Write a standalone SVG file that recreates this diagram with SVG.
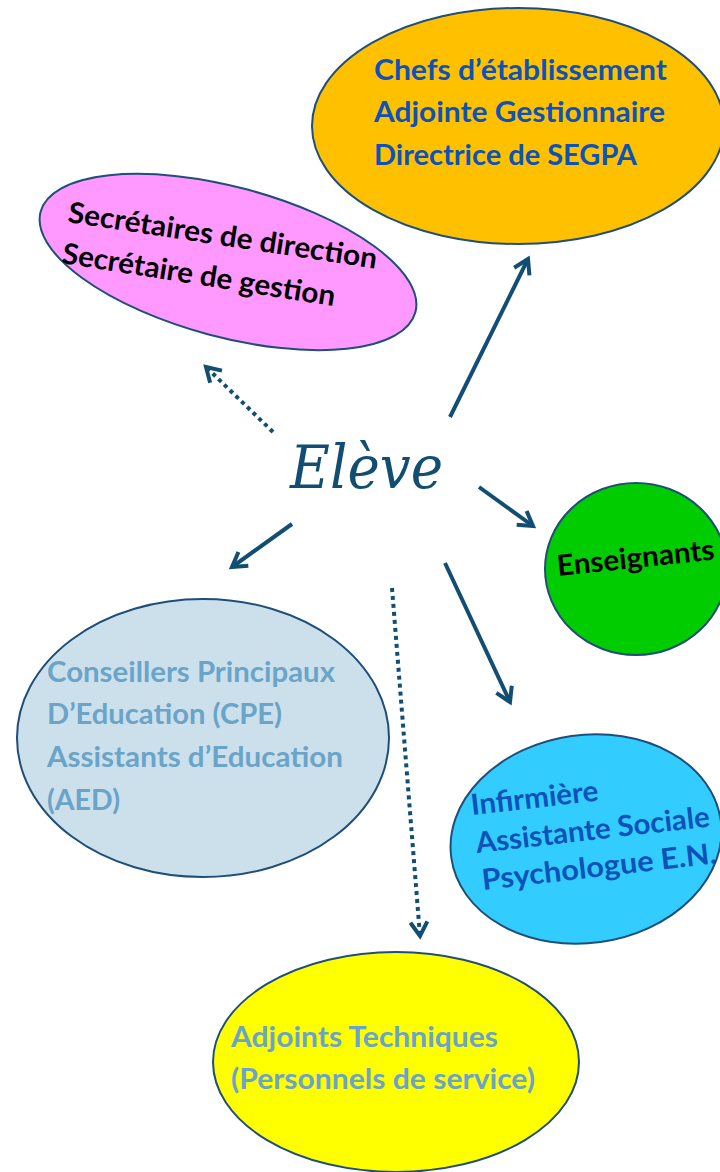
<svg xmlns="http://www.w3.org/2000/svg" width="720" height="1172" viewBox="0 0 720 1172">
<style>
.node ellipse{stroke:#1F4E79;stroke-width:2}
.t{font-family:Lato,"Open Sans","Liberation Sans",sans-serif;font-weight:bold;font-size:29px}
.blue{fill:#0D52B8}
.black{fill:#000}
.steel{fill:#6AA4C8}
.conn line{stroke:#124E72;stroke-width:4;fill:none}
.dot{stroke-dasharray:4 4}
</style>
<defs>
<marker id="ah" markerUnits="userSpaceOnUse" markerWidth="30" markerHeight="30" viewBox="-20 -15 30 30" refX="0" refY="0" orient="auto">
<path d="M -14 -8.5 L 0 0 L -14 8.5" fill="none" stroke="#124E72" stroke-width="4" stroke-dasharray="none" stroke-linejoin="miter"/>
</marker>
</defs>
<rect width="720" height="1172" fill="#fff"/>
<g id="chefs" class="node">
<ellipse cx="518" cy="126" rx="206" ry="118" fill="#FFC000"/>
<text class="t blue" x="374" y="80" textLength="293" lengthAdjust="spacingAndGlyphs">Chefs d’établissement</text>
<text class="t blue" x="374" y="122" textLength="291" lengthAdjust="spacingAndGlyphs">Adjointe Gestionnaire</text>
<text class="t blue" x="374" y="165" textLength="263" lengthAdjust="spacingAndGlyphs">Directrice de SEGPA</text>
</g>
<g id="secretaires" class="node">
<ellipse cx="228" cy="262" rx="194" ry="75" transform="rotate(15 228 262)" fill="#FF99FF"/>
<text class="t black" x="67" y="222" textLength="312" lengthAdjust="spacingAndGlyphs" transform="rotate(8.6 67 222)">Secrétaires de direction</text>
<text class="t black" x="61" y="263" textLength="276" lengthAdjust="spacingAndGlyphs" transform="rotate(9 61 263)">Secrétaire de gestion</text>
</g>
<g id="enseignants" class="node">
<ellipse cx="636" cy="569" rx="91" ry="86" fill="#00CC00"/>
<text class="t black" x="558" y="576" font-size="25" textLength="158" lengthAdjust="spacingAndGlyphs" transform="rotate(-6 558 576)">Enseignants</text>
</g>
<g id="cpe" class="node">
<ellipse cx="203" cy="738" rx="186" ry="139" fill="#CCE0EC"/>
<text class="t steel" x="47" y="682" textLength="288" lengthAdjust="spacingAndGlyphs">Conseillers Principaux</text>
<text class="t steel" x="47" y="724" textLength="235" lengthAdjust="spacingAndGlyphs">D’Education (CPE)</text>
<text class="t steel" x="47" y="767" textLength="296" lengthAdjust="spacingAndGlyphs">Assistants d’Education</text>
<text class="t steel" x="47" y="810" textLength="73" lengthAdjust="spacingAndGlyphs">(AED)</text>
</g>
<g id="infirmiere" class="node">
<ellipse cx="586" cy="839" rx="136" ry="104" transform="rotate(-8 586 839)" fill="#33CCFF"/>
<text class="t blue" x="472" y="815" textLength="128" lengthAdjust="spacingAndGlyphs" transform="rotate(-6.5 472 815)">Infirmière</text>
<text class="t blue" x="477" y="853" textLength="235" lengthAdjust="spacingAndGlyphs" transform="rotate(-6.5 477 853)">Assistante Sociale</text>
<text class="t blue" x="483" y="890" textLength="236" lengthAdjust="spacingAndGlyphs" transform="rotate(-6.5 483 890)">Psychologue E.N.</text>
</g>
<g id="adjoints" class="node">
<ellipse cx="396" cy="1062" rx="183" ry="110" fill="#FFFF00"/>
<text class="t steel" x="231" y="1047" textLength="267" lengthAdjust="spacingAndGlyphs">Adjoints Techniques</text>
<text class="t steel" x="231" y="1089" textLength="304" lengthAdjust="spacingAndGlyphs">(Personnels de service)</text>
</g>
<g id="eleve">
<text x="290" y="488" font-family="'DejaVu Serif','Liberation Serif',serif" font-style="italic" font-size="60" fill="#124E72" textLength="153" lengthAdjust="spacingAndGlyphs">Elève</text>
</g>
<g id="connectors" class="conn">
<line x1="450" y1="417" x2="528" y2="259" marker-end="url(#ah)"/>
<line class="dot" x1="273" y1="432" x2="206" y2="367" marker-end="url(#ah)"/>
<line x1="479" y1="487" x2="533" y2="526" marker-end="url(#ah)"/>
<line x1="292" y1="524" x2="232" y2="567" marker-end="url(#ah)"/>
<line x1="445" y1="563" x2="510" y2="702" marker-end="url(#ah)"/>
<line class="dot" x1="392" y1="588" x2="420" y2="936" marker-end="url(#ah)"/>
</g>
</svg>
